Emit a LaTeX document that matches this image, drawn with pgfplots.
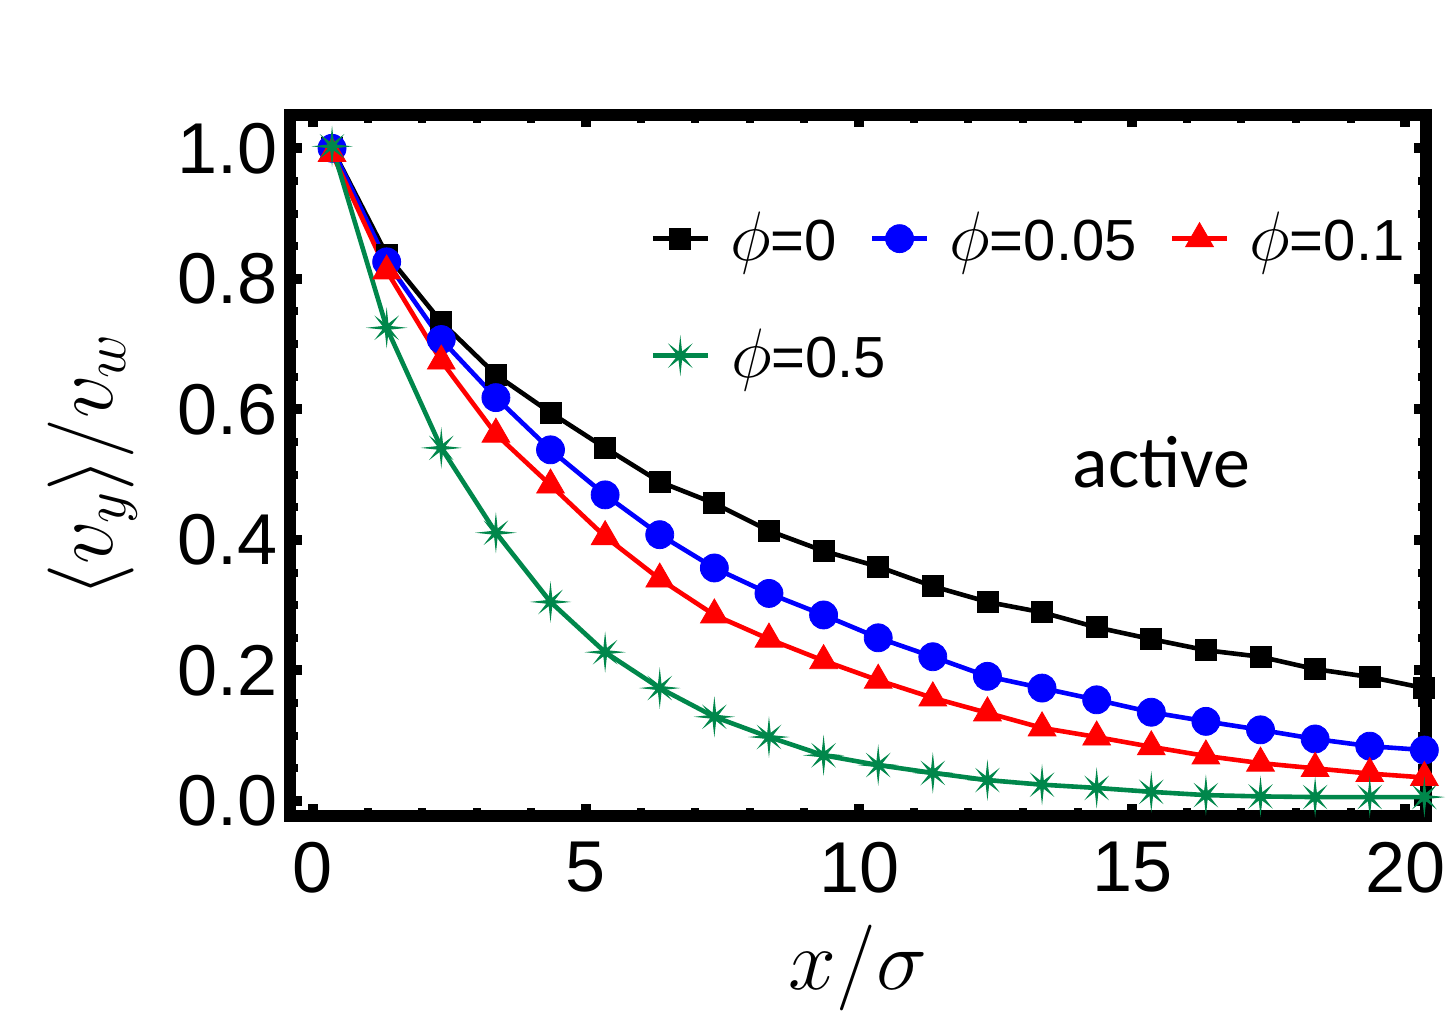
\RequirePackage{fix-cm}
\documentclass[border=0pt]{standalone}
\usepackage{pgfplots}
\pgfplotsset{compat=1.18}
\usepackage{fontspec}
\setmainfont{Liberation Sans}
\newfontfamily\carlito{Carlito}
\definecolor{mgreen}{RGB}{0,135,75}
\newcommand{\lphi}{{\fontsize{35}{38}\selectfont$\phi$}}
\pgfdeclareplotmark{star8}{%
  \pgfpathmoveto{\pgfpointpolar{90}{\pgfplotmarksize}}%
  \pgfpathlineto{\pgfpointpolar{112.5}{0.22\pgfplotmarksize}}%
  \pgfpathlineto{\pgfpointpolar{135}{0.85\pgfplotmarksize}}%
  \pgfpathlineto{\pgfpointpolar{157.5}{0.22\pgfplotmarksize}}%
  \pgfpathlineto{\pgfpointpolar{180}{\pgfplotmarksize}}%
  \pgfpathlineto{\pgfpointpolar{202.5}{0.22\pgfplotmarksize}}%
  \pgfpathlineto{\pgfpointpolar{225}{0.85\pgfplotmarksize}}%
  \pgfpathlineto{\pgfpointpolar{247.5}{0.22\pgfplotmarksize}}%
  \pgfpathlineto{\pgfpointpolar{270}{\pgfplotmarksize}}%
  \pgfpathlineto{\pgfpointpolar{292.5}{0.22\pgfplotmarksize}}%
  \pgfpathlineto{\pgfpointpolar{315}{0.85\pgfplotmarksize}}%
  \pgfpathlineto{\pgfpointpolar{337.5}{0.22\pgfplotmarksize}}%
  \pgfpathlineto{\pgfpointpolar{0}{\pgfplotmarksize}}%
  \pgfpathlineto{\pgfpointpolar{22.5}{0.22\pgfplotmarksize}}%
  \pgfpathlineto{\pgfpointpolar{45}{0.85\pgfplotmarksize}}%
  \pgfpathlineto{\pgfpointpolar{67.5}{0.22\pgfplotmarksize}}%
  \pgfpathclose\pgfusepathqfillstroke}

\pgfplotstableread{
x y
0.35 1.000
1.35 0.837
2.35 0.734
3.35 0.653
4.35 0.595
5.35 0.541
6.35 0.489
7.35 0.456
8.35 0.414
9.35 0.383
10.35 0.359
11.35 0.329
12.35 0.305
13.35 0.289
14.35 0.266
15.35 0.248
16.35 0.231
17.35 0.221
18.35 0.202
19.35 0.190
20.35 0.173
}\blackdata
\pgfplotstableread{
x y
0.35 1.000
1.35 0.826
2.35 0.707
3.35 0.618
4.35 0.538
5.35 0.469
6.35 0.408
7.35 0.357
8.35 0.318
9.35 0.285
10.35 0.250
11.35 0.221
12.35 0.191
13.35 0.173
14.35 0.155
15.35 0.136
16.35 0.122
17.35 0.109
18.35 0.095
19.35 0.084
20.35 0.078
}\bluedata
\pgfplotstableread{
x y
0.35 0.992
1.35 0.812
2.35 0.674
3.35 0.562
4.35 0.484
5.35 0.405
6.35 0.340
7.35 0.285
8.35 0.248
9.35 0.215
10.35 0.185
11.35 0.158
12.35 0.135
13.35 0.112
14.35 0.098
15.35 0.083
16.35 0.069
17.35 0.058
18.35 0.050
19.35 0.042
20.35 0.036
}\reddata
\pgfplotstableread{
x y
0.35 1.003
1.35 0.725
2.35 0.541
3.35 0.411
4.35 0.305
5.35 0.228
6.35 0.173
7.35 0.129
8.35 0.098
9.35 0.070
10.35 0.055
11.35 0.043
12.35 0.032
13.35 0.025
14.35 0.020
15.35 0.014
16.35 0.009
17.35 0.007
18.35 0.006
19.35 0.006
20.35 0.006
}\greendata

\begin{document}
\begin{tikzpicture}
\useasboundingbox (-145pt,-101.5pt) rectangle (578.5pt,408pt);
\begin{axis}[
  at={(0pt,0pt)}, anchor=south west,
  scale only axis, width=568pt, height=350.5pt,
  xmin=-0.42, xmax=20.38, ymin=-0.023, ymax=1.051,
  xtick={0,5,10,15,20},
  ytick={0,0.2,0.4,0.6,0.8,1.0},
  minor x tick num=4, minor y tick num=3,
  tick align=inside,
  major tick length=6pt, minor tick length=4pt,
  major tick style={line width=5pt, black},
  minor tick style={line width=4pt, black},
  axis line style={line width=6pt},
  /pgf/number format/assume math mode=true,
  ticklabel style={font=\fontsize{36}{40}\selectfont},
  yticklabel style={anchor=east, inner sep=0pt, xshift=-6pt,
    /pgf/number format/fixed, /pgf/number format/fixed zerofill,
    /pgf/number format/precision=1},
  xticklabel style={anchor=north, inner sep=0pt, yshift=-13pt},
  xlabel={$x/\sigma$},
  ylabel={$\langle v_y\rangle/v_w$},
  xlabel style={at={(axis description cs:0.5,-0.2482)}, anchor=base,
    font=\fontsize{43}{46}\selectfont},
  ylabel style={at={(axis description cs:-0.1558,0.5)}, anchor=base,
    font=\fontsize{43}{46}\selectfont},
  legend columns=3,
  legend cell align=left,
  legend style={at={(axis description cs:0.317,0.862)}, anchor=north west,
    draw=none, fill=none, inner sep=0pt, row sep=32pt,
    nodes={inner sep=0pt, text depth=0.22em},
    font=\fontsize{29}{32}\selectfont,
    /tikz/every odd column/.append style={column sep=10pt},
    /tikz/every even column/.append style={column sep=16.5pt}},
  legend image code/.code={\draw[mark repeat=2, mark phase=2]
    plot coordinates {(0pt,0pt) (13.75pt,0pt) (27.5pt,0pt)};},
]
\addplot[black, line width=2.3pt, mark=square*, mark size=5.25pt,
  mark options={solid, line width=0.4pt}] table[x=x,y=y] {\blackdata};
\addlegendentry{\lphi=0}
\addplot[blue, line width=2.3pt, mark=*, mark size=7pt,
  mark options={solid, line width=0.4pt}] table[x=x,y=y] {\bluedata};
\addlegendentry{\lphi=0.05}
\addplot[red, line width=2.3pt, mark=triangle*, mark size=8pt,
  mark options={solid, line width=0.4pt}] table[x=x,y=y] {\reddata};
\addlegendentry{\lphi=0.1}
\addplot[mgreen, line width=2.3pt, mark=star8, mark size=8pt,
  mark options={solid, line width=0.5pt, fill=mgreen}] table[x=x,y=y] {\greendata};
\addlegendentry{\makebox[0pt][l]{\lphi=0.5}}
\node[anchor=base, font=\carlito\fontsize{37}{40}\selectfont] at (axis cs:15.54,0.48) {active};
\end{axis}
\end{tikzpicture}
\end{document}
